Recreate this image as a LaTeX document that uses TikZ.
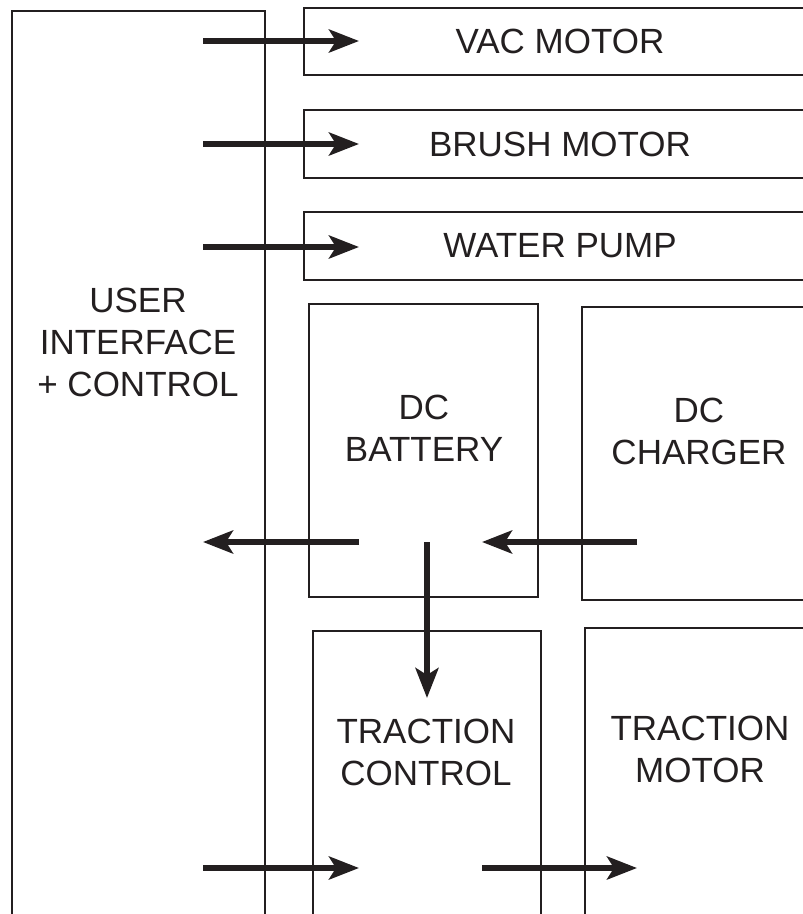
\documentclass[tikz,border=0pt]{standalone}
\usepackage{fontspec}
\setmainfont{Liberation Sans}
\usetikzlibrary{arrows.meta}
\definecolor{ink}{RGB}{35,31,32}

\begin{document}
\begin{tikzpicture}[
  x=1pt, y=-1pt,
  font=\fontsize{35}{42}\selectfont, text=ink,
  blk/.style={draw=ink, line width=2.5pt, inner sep=0pt},
  lbl/.style={align=center, inner sep=0pt},
  arr/.style={draw=ink, line width=5.5pt, -{Stealth[length=30pt, width=23pt, inset=7pt]}}
]
  \useasboundingbox (0,0) rectangle (803,914);
  \clip (0,0) rectangle (803,914);

  % blocks (right and bottom ones run off the page)
  \node[blk, minimum width=253pt, minimum height=960pt] (ui) at (138.5,491) {};
  \node[lbl] (uiT) at (138,342) {USER\\INTERFACE\\+ CONTROL};
  \node[blk, minimum width=512pt, minimum height=67pt] (vac)   at (560,41.5) {VAC MOTOR};
  \node[blk, minimum width=512pt, minimum height=68pt] (brush) at (560,144)  {BRUSH MOTOR};
  \node[blk, minimum width=512pt, minimum height=68pt] (pump)  at (560,246)  {WATER PUMP};
  \node[blk, minimum width=229pt, minimum height=293pt] (bat) at (423.5,450.5) {};
  \node[lbl] (batT) at (424,428.5) {DC\\BATTERY};
  \node[blk, minimum width=234pt, minimum height=293pt] (chg) at (699,453.5) {};
  \node[lbl] (chgT) at (699,431) {DC\\CHARGER};
  \node[blk, minimum width=228pt, minimum height=329pt] (tc) at (427,795.5) {};
  \node[lbl] (tcT) at (426,752) {TRACTION\\CONTROL};
  \node[blk, minimum width=230pt, minimum height=332pt] (tm) at (700,794) {};
  \node[lbl] (tmT) at (700,749.5) {TRACTION\\MOTOR};

  % arrow ends
  \coordinate (uv) at (203,41);   \coordinate (vv) at (359,41);
  \coordinate (ub) at (203,144);  \coordinate (bb) at (359,144);
  \coordinate (uw) at (203,247);  \coordinate (ww) at (359,247);
  \coordinate (bo) at (359,542);  \coordinate (ui1) at (203,542);
  \coordinate (co) at (637,542);  \coordinate (ci) at (482,542);
  \coordinate (bd) at (427,542);  \coordinate (td) at (427,698);
  \coordinate (ut) at (203,868);  \coordinate (tt) at (359,868);
  \coordinate (to) at (482,868);  \coordinate (mt) at (637,868);

  \draw[arr] (uv) -- (vv);   \draw[arr] (ub) -- (bb);
  \draw[arr] (uw) -- (ww);
  \draw[arr] (bo) -- (ui1);  \draw[arr] (co) -- (ci);
  \draw[arr] (bd) -- (td);
  \draw[arr] (ut) -- (tt);   \draw[arr] (to) -- (mt);
\end{tikzpicture}
\end{document}
